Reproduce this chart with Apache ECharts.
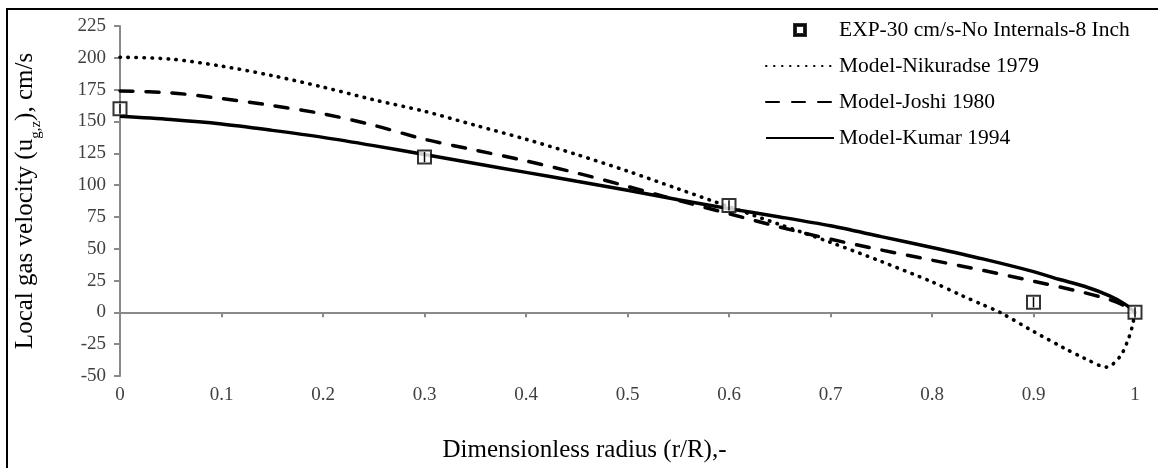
<!DOCTYPE html>
<html>
<head>
<meta charset="utf-8">
<script src="https://cdn.jsdelivr.net/npm/echarts@6/dist/echarts.min.js"></script>
<style>
html,body{margin:0;padding:0;background:#fff;}
#chart{width:1158px;height:468px;}
</style>
</head>
<body>
<div id="chart"></div>
<script>
// ---- data ----
const expNames = 'EXP-30 cm/s-No Internals-8 Inch';
const expR = [0, 0.3, 0.6, 0.9, 1.0];
const expU = [160, 122, 84, 8, 0];
const expErr = [4, 4, 4, 4, 4];

const nikR = [0, 0.05, 0.1, 0.15, 0.2, 0.25, 0.3, 0.35, 0.4, 0.45, 0.5, 0.55, 0.6, 0.65, 0.7, 0.75, 0.8, 0.83, 0.85, 0.867, 0.9, 0.93, 0.95, 0.972, 0.985, 0.992, 0.997, 1.0];
const nikU = [200.5, 199, 193.5, 186, 177, 167, 158, 147, 136, 124, 111, 97, 83, 69, 55, 40, 24, 13, 6, 0, -15, -28, -36, -43, -35, -24, -12, 0];

const joshiR = [0, 0.05, 0.1, 0.15, 0.2, 0.25, 0.3, 0.35, 0.4, 0.45, 0.5, 0.55, 0.6, 0.65, 0.7, 0.75, 0.8, 0.85, 0.9, 0.95, 0.975, 0.99, 1.0];
const joshiU = [174, 172.5, 168, 162.5, 156, 147, 136, 127.5, 119, 109.5, 99, 88, 77.5, 67, 57.5, 49, 41, 33, 24.5, 15.5, 10, 5, 0];

const kumarR = [0, 0.05, 0.1, 0.15, 0.2, 0.25, 0.3, 0.35, 0.4, 0.45, 0.5, 0.55, 0.6, 0.65, 0.7, 0.75, 0.8, 0.85, 0.9, 0.925, 0.95, 0.975, 0.99, 1.0];
const kumarU = [154, 151.5, 148, 143, 137.5, 131, 124, 117, 110, 103, 96, 88.5, 81.5, 75, 68, 59.5, 51, 42, 32, 26, 20.5, 13, 6.5, 0];

const seriesNames = [expNames, 'Model-Nikuradse 1979', 'Model-Joshi 1980', 'Model-Kumar 1994'];
const xTicks = {min: 0, max: 1, interval: 0.1};
const yTicks = {min: -50, max: 225, interval: 25};
const xTitle = 'Dimensionless radius (r/R),-';

const zip = (a, b) => a.map((v, i) => [v, b[i]]);
const FONT = '"Liberation Serif", "DejaVu Serif", serif';

const chart = echarts.init(document.getElementById('chart'), null, {renderer: 'canvas'});
chart.setOption({
  animation: false,
  backgroundColor: '#fff',
  textStyle: {fontFamily: FONT},
  graphic: [{
    type: 'rect', silent: true, z: -10,
    shape: {x: 7, y: 9, width: 1200, height: 520},
    style: {fill: 'none', stroke: '#000', lineWidth: 2}
  }],
  grid: {left: 120, right: 23, top: 26, bottom: 16, containLabel: false},
  legend: {
    orient: 'vertical', left: 760, top: 13,
    itemWidth: 68, itemHeight: 12, itemGap: 12,
    textStyle: {fontFamily: FONT, fontSize: 21.5, color: '#000', lineHeight: 24},
    data: [
      {name: seriesNames[0], icon: 'path://M0,0H12V12H0Z M2,2V10H10V2Z'},
      {name: seriesNames[1], itemStyle: {opacity: 0}},
      {name: seriesNames[2], itemStyle: {opacity: 0}},
      {name: seriesNames[3], itemStyle: {opacity: 0}}
    ]
  },
  xAxis: {
    type: 'value', min: xTicks.min, max: xTicks.max, interval: xTicks.interval,
    name: xTitle, nameLocation: 'middle', nameGap: 62,
    nameTextStyle: {fontFamily: FONT, fontSize: 25, color: '#000', padding: [0, 86, 0, 0]},
    axisLine: {onZero: true, lineStyle: {color: '#898989', width: 2}},
    axisTick: {show: true, length: 5, lineStyle: {color: '#898989', width: 2}},
    axisLabel: {fontFamily: FONT, fontSize: 19, color: '#404040', margin: 10,
      formatter: v => String(+v.toFixed(1))},
    splitLine: {show: false}
  },
  yAxis: {
    type: 'value', min: yTicks.min, max: yTicks.max, interval: yTicks.interval,
    name: '{a|Local gas velocity (u}{s|g,z}{a|), cm/s}', nameLocation: 'middle', nameGap: 80,
    nameTextStyle: {fontFamily: FONT, fontSize: 25, color: '#000',
      rich: {a: {fontFamily: FONT, fontSize: 25, color: '#000', lineHeight: 30},
             s: {fontFamily: FONT, fontSize: 15, color: '#000', verticalAlign: 'bottom', lineHeight: 30, padding: [0, 0, -4, 0]}}},
    axisLine: {show: true, lineStyle: {color: '#898989', width: 2}},
    axisTick: {show: true, length: 6, lineStyle: {color: '#898989', width: 2}},
    axisLabel: {fontFamily: FONT, fontSize: 19, color: '#404040', margin: 14},
    splitLine: {show: false}
  },
  series: [
    {
      name: seriesNames[1], type: 'line', data: zip(nikR, nikU),
      showSymbol: false, symbol: 'none', smooth: 0.3, z: 3,
      lineStyle: {color: '#000', width: 3.6, type: [0.5, 7.5], cap: 'round'},
      itemStyle: {color: '#000'}
    },
    {
      name: seriesNames[2], type: 'line', data: zip(joshiR, joshiU),
      showSymbol: false, symbol: 'none', smooth: 0.3, z: 3,
      lineStyle: {color: '#000', width: 3.5, type: [13, 13], cap: 'round'},
      itemStyle: {color: '#000'}
    },
    {
      name: seriesNames[3], type: 'line', data: zip(kumarR, kumarU),
      showSymbol: false, symbol: 'none', smooth: 0.3, z: 3,
      lineStyle: {color: '#000', width: 3.5, type: 'solid'},
      itemStyle: {color: '#000'}
    },
    {
      name: seriesNames[0], type: 'scatter', data: zip(expR, expU), z: 5,
      symbol: 'emptyRect', symbolSize: 13,
      itemStyle: {color: '#000', borderColor: '#000', borderWidth: 2}
    },
    {
      name: 'err', type: 'custom', z: 6, silent: true,
      data: expR.map((r, i) => [r, expU[i] - expErr[i], expU[i] + expErr[i]]),
      renderItem: (params, api) => {
        const lo = api.coord([api.value(0), api.value(1)]);
        const hi = api.coord([api.value(0), api.value(2)]);
        return {type: 'line', shape: {x1: lo[0], y1: lo[1], x2: hi[0], y2: hi[1]},
                style: {stroke: '#000', lineWidth: 1.5}};
      }
    }
  ]
});
</script>
</body>
</html>
